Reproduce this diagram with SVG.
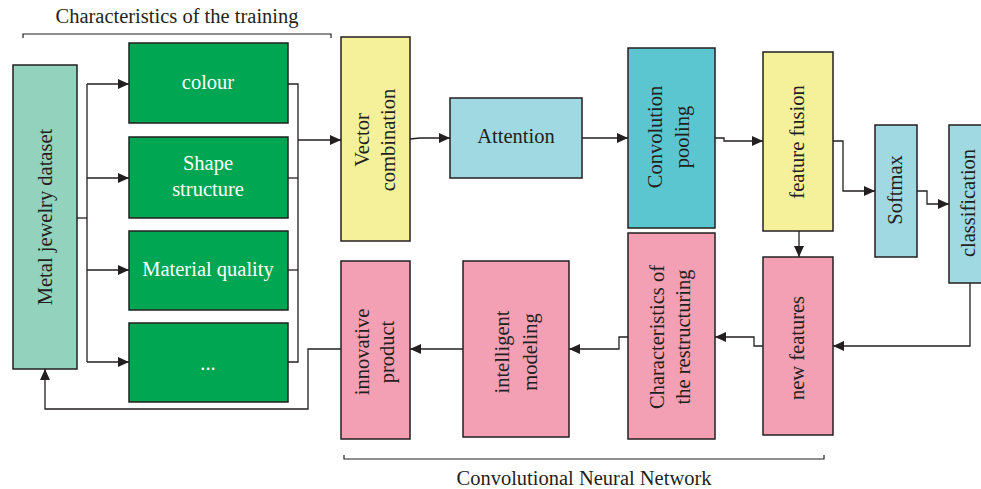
<svg xmlns="http://www.w3.org/2000/svg" width="981" height="489" viewBox="0 0 981 489">
<style>
.box{stroke:#231f20;stroke-width:1.5}
.ds{fill:#93d2bd}
.gr{fill:#00a651}
.ye{fill:#f5f19b}
.lb{fill:#a0d9e2}
.cy{fill:#5cc6d0}
.pk{fill:#f4a0b4}
text{font-family:"Liberation Serif","DejaVu Serif",serif;font-size:20.5px;fill:#231f20;text-anchor:middle;dominant-baseline:central}
.w{fill:#ffffff}
.c{fill:none;stroke:#231f20;stroke-width:1.3}
.br{fill:none;stroke:#231f20;stroke-width:1.2}
</style>
<defs>
<marker id="ah" markerUnits="userSpaceOnUse" markerWidth="12" markerHeight="10" refX="11" refY="5" orient="auto">
<path d="M0,0 L11,5 L0,10 Z" fill="#231f20"/>
</marker>
</defs>
<rect width="981" height="489" fill="#ffffff"/>

<g id="title-training">
<text x="177" y="16">Characteristics of the training</text>
<path class="br" d="M23,38 V34 H331 V38"/>
</g>
<g id="title-cnn">
<path class="br" d="M344,455 V459 H824 V455"/>
<text x="584" y="478">Convolutional Neural Network</text>
</g>

<g id="connectors">
<path class="c" d="M77,218 H87"/>
<path class="c" d="M87,84 V362"/>
<path class="c" d="M87,84 H129" marker-end="url(#ah)"/>
<path class="c" d="M87,178 H129" marker-end="url(#ah)"/>
<path class="c" d="M87,270 H129" marker-end="url(#ah)"/>
<path class="c" d="M87,362 H129" marker-end="url(#ah)"/>
<path class="c" d="M288,84 H298 V362 H288"/>
<path class="c" d="M288,178 H298"/>
<path class="c" d="M288,270 H298"/>
<path class="c" d="M298,140 H341" marker-end="url(#ah)"/>
<path class="c" d="M410,139 L420,138 H450" marker-end="url(#ah)"/>
<path class="c" d="M582,138 H628" marker-end="url(#ah)"/>
<path class="c" d="M715,138 H724 V141 H763" marker-end="url(#ah)"/>
<path class="c" d="M833,141 H843 V191 H875" marker-end="url(#ah)"/>
<path class="c" d="M917,191 H927 V204 H949" marker-end="url(#ah)"/>
<path class="c" d="M799,231 V257" marker-end="url(#ah)"/>
<path class="c" d="M970,283 V346 H833" marker-end="url(#ah)"/>
<path class="c" d="M763,346 H754 V337 H715" marker-end="url(#ah)"/>
<path class="c" d="M628,337 H619 V349 H569" marker-end="url(#ah)"/>
<path class="c" d="M463,349 H410" marker-end="url(#ah)"/>
<path class="c" d="M341,349 H308 V409 H45 V369" marker-end="url(#ah)"/>
</g>

<g id="dataset">
<rect class="box ds" x="13" y="65" width="64" height="304"/>
<text transform="translate(45,217) rotate(-90)">Metal jewelry dataset</text>
</g>
<g id="colour">
<rect class="box gr" x="129" y="43" width="159" height="80"/>
<text class="w" x="208" y="82">colour</text>
</g>
<g id="shape">
<rect class="box gr" x="129" y="137" width="159" height="81"/>
<text class="w" x="208" y="163">Shape</text>
<text class="w" x="208" y="189">structure</text>
</g>
<g id="material">
<rect class="box gr" x="129" y="231" width="159" height="79"/>
<text class="w" x="208" y="269">Material quality</text>
</g>
<g id="etc">
<rect class="box gr" x="129" y="323" width="159" height="79"/>
<text class="w" x="208" y="363">...</text>
</g>
<g id="vector">
<rect class="box ye" x="341" y="37" width="69" height="204"/>
<text transform="translate(362,140) rotate(-90)">Vector</text>
<text transform="translate(388,140) rotate(-90)">combination</text>
</g>
<g id="attention">
<rect class="box lb" x="450" y="98" width="132" height="80"/>
<text x="516" y="136">Attention</text>
</g>
<g id="convolution">
<rect class="box cy" x="628" y="48" width="87" height="180"/>
<text transform="translate(655,137) rotate(-90)">Convolution</text>
<text transform="translate(682,137) rotate(-90)">pooling</text>
</g>
<g id="fusion">
<rect class="box ye" x="763" y="52" width="70" height="179"/>
<text transform="translate(797,142) rotate(-90)">feature fusion</text>
</g>
<g id="softmax">
<rect class="box lb" x="875" y="125" width="42" height="132"/>
<text transform="translate(895,190) rotate(-90)">Softmax</text>
</g>
<g id="classification">
<rect class="box lb" x="949" y="125" width="40" height="158"/>
<text transform="translate(968,203) rotate(-90)">classification</text>
</g>
<g id="newfeatures">
<rect class="box pk" x="763" y="257" width="70" height="178"/>
<text transform="translate(797,348) rotate(-90)">new features</text>
</g>
<g id="restructuring">
<rect class="box pk" x="628" y="233" width="87" height="206"/>
<text transform="translate(657,337) rotate(-90)">Characteristics of</text>
<text transform="translate(683,337) rotate(-90)">the restructuring</text>
</g>
<g id="modeling">
<rect class="box pk" x="463" y="261" width="106" height="176"/>
<text transform="translate(502,352) rotate(-90)">intelligent</text>
<text transform="translate(530,352) rotate(-90)">modeling</text>
</g>
<g id="innovative">
<rect class="box pk" x="341" y="261" width="69" height="178"/>
<text transform="translate(362,352) rotate(-90)">innovative</text>
<text transform="translate(387,352) rotate(-90)">product</text>
</g>
</svg>
